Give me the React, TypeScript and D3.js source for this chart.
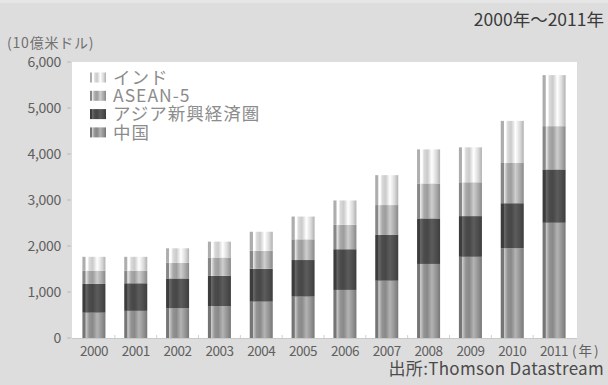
import React from "react";
import * as d3 from "d3";

// Asian market size, billions of USD, stacked bottom-to-top
const years = ["2000", "2001", "2002", "2003", "2004", "2005", "2006", "2007", "2008", "2009", "2010", "2011"];
const china = [550, 590, 645, 695, 790, 900, 1045, 1245, 1610, 1765, 1950, 2505];
const asianNIEs = [625, 600, 650, 655, 715, 795, 885, 995, 990, 885, 980, 1160];
const asean5 = [290, 275, 340, 400, 390, 450, 530, 650, 760, 735, 875, 940];
const india = [300, 300, 315, 345, 415, 495, 530, 650, 740, 760, 915, 1110];

const seriesKeys = ["china", "nies", "asean", "india"];
const seriesLabels = ["中国", "アジア新興経済圏", "ASEAN-5", "インド"];
const seriesColors = ["#939393", "#4c4c4c", "#a9a9a9", "#dadada"];
const yTicks = [0, 1000, 2000, 3000, 4000, 5000, 6000];

const W = 608;
const H = 385;
const FONT = "'Noto Sans CJK JP', 'Noto Sans', sans-serif";

const rows = years.map((y, i) => ({
  year: y,
  china: china[i],
  nies: asianNIEs[i],
  asean: asean5[i],
  india: india[i],
}));

const stacked = d3.stack<any>().keys(seriesKeys)(rows);

const x = d3.scaleBand<string>().domain(years).range([73, 575]).paddingInner(0.45).paddingOuter(0.225);
const y = d3.scaleLinear().domain([0, 6000]).range([338, 62]);
const fmt = d3.format(",");

// cylinder-like horizontal shading for each series colour
function gradStops(base: string) {
  const c = d3.color(base)!;
  return [
    { o: 0, c: c.darker(0.7).formatHex() },
    { o: 0.12, c: c.darker(0.6).formatHex() },
    { o: 0.15, c: c.brighter(0.9).formatHex() },
    { o: 0.22, c: c.brighter(0.5).formatHex() },
    { o: 0.3, c: c.formatHex() },
    { o: 0.45, c: c.darker(0.2).formatHex() },
    { o: 0.64, c: c.brighter(0.55).formatHex() },
    { o: 0.84, c: c.formatHex() },
    { o: 1, c: c.darker(0.6).formatHex() },
  ];
}

export default function App() {
  const legendOrder = [3, 2, 1, 0];
  const step = x.step();
  return (
    <svg width={W} height={H} style={{ position: "absolute", left: 0, top: 0, display: "block" }} fontFamily={FONT}>
      <defs>
        {seriesColors.map((col, i) => (
          <linearGradient key={i} id={`g${i}`} x1="0" x2="1" y1="0" y2="0">
            {gradStops(col).map((s, j) => (
              <stop key={j} offset={s.o} stopColor={s.c} />
            ))}
          </linearGradient>
        ))}
      </defs>
      <rect x={0} y={0} width={W} height={H} fill="#dddddd" />
      <rect x={0} y={0} width={W} height={3} fill="#e6e6e6" />

      {/* plot panel */}
      <rect x={72} y={y(6000)} width={505} height={y(0) - y(6000)} fill="#ffffff" />

      {/* y axis */}
      {yTicks.map((t) => (
        <g key={t}>
          <line x1={67} x2={71} y1={y(t)} y2={y(t)} stroke="#bbbbbb" strokeWidth={1} />
          <text x={61} y={y(t)} dy="0.35em" textAnchor="end" fontSize={14} letterSpacing={-0.3} fill="#606060">
            {fmt(t)}
          </text>
        </g>
      ))}
      <text x={7} y={43} dy="0.35em" fontSize={14} letterSpacing={0.8} fill="#707070">
        (10億米ドル)
      </text>

      {/* stacked bars */}
      {stacked.map((layer, si) => (
        <g key={layer.key}>
          {layer.map((d: any, i: number) => (
            <rect
              key={i}
              x={x(years[i])}
              y={y(d[1])}
              width={x.bandwidth()}
              height={y(d[0]) - y(d[1])}
              fill={`url(#g${si})`}
            />
          ))}
        </g>
      ))}

      {/* baseline with small separators between categories */}
      <line x1={72} x2={577} y1={y(0) + 0.5} y2={y(0) + 0.5} stroke="#c8c8c8" strokeWidth={1} />
      {years.slice(1).map((yr) => {
        const bx = (x(yr) as number) - (step - x.bandwidth()) / 2;
        return <line key={yr} x1={bx} x2={bx} y1={y(0) - 3} y2={y(0)} stroke="#d0d0d0" strokeWidth={1} />;
      })}

      {/* x labels */}
      {years.map((yr) => (
        <text key={yr} x={(x(yr) as number) + x.bandwidth() / 2} y={351} dy="0.35em" textAnchor="middle" fontSize={13.5} letterSpacing={-0.5} fill="#606060">
          {yr}
        </text>
      ))}
      <text x={572} y={351} dy="0.35em" fontSize={13.5} letterSpacing={2} fill="#606060">
        (年)
      </text>

      {/* legend */}
      {legendOrder.map((si, k) => {
        const cy = 77.5 + k * 18.3;
        return (
          <g key={si}>
            <rect x={90} y={cy - 5} width={16} height={10} fill={`url(#g${si})`} />
            <text x={113} y={cy} dy="0.35em" fontSize={17.5} letterSpacing={1} fill="#8c8c8c">
              {seriesLabels[si]}
            </text>
          </g>
        );
      })}

      {/* period and source */}
      <text x={604} y={20} dy="0.35em" textAnchor="end" fontSize={17.5} fill="#3a3a3a">
        2000年～2011年
      </text>
      <text x={604} y={369} dy="0.35em" textAnchor="end" fontSize={17} letterSpacing={0.3} fill="#4a4a4a">
        出所:Thomson Datastream
      </text>
    </svg>
  );
}
